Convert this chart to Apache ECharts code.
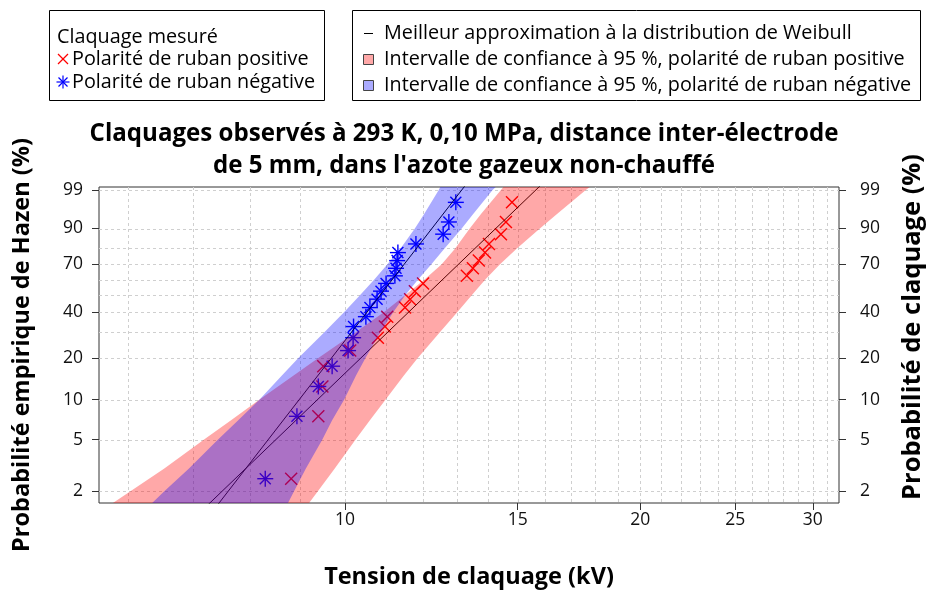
<!DOCTYPE html>
<html><head><meta charset="utf-8">
<script src="https://cdn.jsdelivr.net/npm/echarts@6/dist/echarts.min.js"></script>
<style>html,body{margin:0;padding:0;background:#fff}#c{width:930px;height:594px}</style>
</head><body><div id="c"></div>
<script>
// ---- data ----
const hazenPct = [2.5,7.5,12.5,17.5,22.5,27.5,32.5,37.5,42.5,47.5,52.5,57.5,62.5,67.5,72.5,77.5,82.5,87.5,92.5,97.5];
const positiveKV = [8.81,9.39,9.48,9.50,10.12,10.80,10.98,11.04,11.51,11.65,11.78,12.01,13.31,13.50,13.69,13.89,14.02,14.42,14.59,14.80];
const negativeKV = [8.29,8.93,9.39,9.70,10.07,10.19,10.20,10.50,10.60,10.78,10.88,11.01,11.24,11.27,11.30,11.32,11.81,12.59,12.76,12.97];
const fitScaleKV = [12.72, 11.27];   // positive, negative
const fitShape = [7.37, 9.90];       // positive, negative
const fitPct = [1.5, 99.3];
const bandPct = [1.5,2,3,5,7,10,15,20,30,40,50,60,70,80,90,95,99,99.3];
const posBandLowKV  = [5.71,6.04,6.54,7.18,7.65,8.18,8.86,9.39,10.26,10.96,11.52,12.05,12.54,12.95,13.40,13.76,14.42,14.53];
const posBandHighKV = [9.12,9.38,9.76,10.25,10.60,11.00,11.48,11.86,12.50,13.02,13.47,13.90,14.38,14.97,15.80,16.45,17.60,17.82];
const negBandLowKV  = [6.29,6.54,6.93,7.42,7.78,8.18,8.62,8.96,9.53,9.98,10.36,10.71,11.04,11.39,11.78,12.04,12.46,12.52];
const negBandHighKV = [8.70,8.87,9.12,9.48,9.70,9.98,10.26,10.49,10.87,11.20,11.52,11.87,12.24,12.63,13.15,13.51,14.14,14.28];
const xTickKV = [10,15,20,25,30];
const xGridKV = [6,7,8,9,10,11,12,13,14,15,16,17,18,19,20,21,22,23,24,25,26,27,28,29,30,31];
const yTickPct = [2,5,10,20,40,70,90,99];
const yGridPct = [2,5,10,20,30,40,50,60,70,80,90,99];
const xRangeKV = [5.61, 31.9];
const yRangePct = [1.62, 99.23];

// ---- scales (Weibull paper) ----
const lx = v => Math.log10(v);
const wb = pct => Math.log(-Math.log(1 - pct / 100));
const FONT = '"Open Sans", Lato, sans-serif';
const RED = '#ff0000', BLUE = '#0000ff';
const RED_FILL = 'rgba(255,0,0,0.34)', BLUE_FILL = 'rgba(0,0,255,0.33)';

function fitLine(i) {
  return fitPct.map(p => [lx(fitScaleKV[i] * Math.pow(-Math.log(1 - p / 100), 1 / fitShape[i])), wb(p)]);
}
function bandPoly(lo, hi) {
  const a = lo.map((v, i) => [lx(v), wb(bandPct[i])]);
  const b = hi.map((v, i) => [lx(v), wb(bandPct[i])]).reverse();
  return a.concat(b);
}
function bandSeries(name, lo, hi, fill, z) {
  const poly = bandPoly(lo, hi);
  return {
    type: 'custom', name, z, clip: true, silent: true, data: poly,
    renderItem(params, api) {
      if (params.dataIndex !== 0) return;
      return { type: 'polygon', shape: { points: poly.map(p => api.coord(p)) }, style: { fill } };
    }
  };
}
function markerSeries(name, kv, color, kind) {
  return {
    type: 'custom', name, z: 2, clip: false, silent: true,
    data: kv.map((v, i) => [lx(v), wb(hazenPct[i])]),
    renderItem(params, api) {
      const c = api.coord([api.value(0), api.value(1)]);
      const st = { stroke: color, lineWidth: 1.4 };
      const d = kind === 'x' ? 6 : 5.5, r = 8;
      const segs = [[c[0]-d, c[1]-d, c[0]+d, c[1]+d], [c[0]-d, c[1]+d, c[0]+d, c[1]-d]];
      if (kind === 'star') segs.push([c[0]-r, c[1], c[0]+r, c[1]], [c[0], c[1]-r, c[0], c[1]+r]);
      return { type: 'group', children: segs.map(s => ({ type: 'line', shape: { x1: s[0], y1: s[1], x2: s[2], y2: s[3] }, style: st })) };
    }
  };
}
function gridSeries(vertical) {
  const data = vertical ? xGridKV.map(v => [lx(v), 0]) : yGridPct.map(p => [lx(10), wb(p)]);
  return {
    type: 'custom', z: 1, silent: true, clip: true, data,
    renderItem(params, api) {
      const cs = params.coordSys;
      const c = api.coord([api.value(0), api.value(1)]);
      const shape = vertical
        ? { x1: Math.round(c[0]) + 0.5, y1: cs.y, x2: Math.round(c[0]) + 0.5, y2: cs.y + cs.height }
        : { x1: cs.x, y1: Math.round(c[1]) + 0.5, x2: cs.x + cs.width, y2: Math.round(c[1]) + 0.5 };
      return { type: 'line', shape, style: { stroke: '#cfcfcf', lineWidth: 1, lineDash: [3, 3] } };
    }
  };
}
function yAxisDef(pos, gap, margin, name) {
  return {
    type: 'value', position: pos, min: wb(yRangePct[0]), max: wb(yRangePct[1]),
    axisLine: { show: false, onZero: false }, splitLine: { show: false },
    axisTick: { show: true, customValues: yTickPct.map(wb), length: 7, lineStyle: { color: '#333' } },
    axisLabel: { customValues: yTickPct.map(wb), formatter: v => String(Math.round(100 * (1 - Math.exp(-Math.exp(v))))),
      fontSize: 17.5, color: '#111', margin, fontFamily: FONT },
    name, nameLocation: 'middle', nameRotate: 90, nameGap: gap,
    nameTextStyle: { fontSize: 23.5, fontWeight: 'bold', color: '#000', fontFamily: FONT }
  };
}
function legendMark(kind, x, y, color) {
  const d = kind === 'x' ? 5 : 4.5, r = 6.5;
  const segs = [[x-d, y-d, x+d, y+d], [x-d, y+d, x+d, y-d]];
  if (kind === 'star') segs.push([x-r, y, x+r, y], [x, y-r, x, y+r]);
  return { type: 'group', children: segs.map(s => ({ type: 'line', shape: { x1: s[0], y1: s[1], x2: s[2], y2: s[3] }, style: { stroke: color, lineWidth: 1.2 } })) };
}
const legText = (t, x, y) => ({ type: 'text', x, y, style: { text: t, fontSize: 19.8, fill: '#000', verticalAlign: 'middle', fontFamily: FONT } });

const chart = echarts.init(document.getElementById('c'), null, { renderer: 'canvas' });
chart.setOption({
  animation: false,
  textStyle: { fontFamily: FONT },
  title: {
    text: 'Claquages observés à 293 K, 0,10 MPa, distance inter-électrode\nde 5 mm, dans l\'azote gazeux non-chauffé',
    left: 459, top: 113, textAlign: 'center',
    textStyle: { fontSize: 24.1, fontWeight: 'bold', lineHeight: 32, color: '#000', fontFamily: FONT }
  },
  grid: { left: 99, right: 91, top: 187, bottom: 91, show: true, borderColor: '#333', borderWidth: 1, outerBoundsMode: 'none' },
  xAxis: {
    type: 'value', min: lx(xRangeKV[0]), max: lx(xRangeKV[1]),
    axisLine: { show: false, onZero: false }, splitLine: { show: false },
    axisTick: { show: true, customValues: xTickKV.map(lx), length: 7, lineStyle: { color: '#333' } },
    axisLabel: { customValues: xTickKV.map(lx), formatter: v => String(Math.round(Math.pow(10, v))), fontSize: 17.5, color: '#111', margin: 8, fontFamily: FONT },
    name: 'Tension de claquage (kV)', nameLocation: 'middle', nameGap: 62,
    nameTextStyle: { fontSize: 23.5, fontWeight: 'bold', color: '#000', fontFamily: FONT }
  },
  yAxis: [
    yAxisDef('left', 65, 16, 'Probabilité empirique de Hazen (%)'),
    yAxisDef('right', 61, 21, '')
  ],
  series: [
    gridSeries(true), gridSeries(false),
    markerSeries('Polarité de ruban positive', positiveKV, RED, 'x'),
    markerSeries('Polarité de ruban négative', negativeKV, BLUE, 'star'),
    { type: 'line', name: 'fit+', z: 3, data: fitLine(0), symbol: 'none', silent: true, lineStyle: { color: '#000', width: 1 } },
    { type: 'line', name: 'fit-', z: 3, data: fitLine(1), symbol: 'none', silent: true, lineStyle: { color: '#000', width: 1 } },
    bandSeries('IC+', posBandLowKV, posBandHighKV, RED_FILL, 4),
    bandSeries('IC-', negBandLowKV, negBandHighKV, BLUE_FILL, 5)
  ],
  graphic: [
    { type: 'text', x: 913, y: 327, rotation: Math.PI / 2,
      style: { text: 'Probabilité de claquage (%)', fontSize: 25.5, fontWeight: 'bold', fill: '#000', align: 'center', verticalAlign: 'middle', fontFamily: FONT } },
    { type: 'rect', shape: { x: 49.5, y: 10.5, width: 275, height: 90 }, style: { fill: '#fff', stroke: '#000', lineWidth: 1 } },
    legText('Claquage mesuré', 57, 37),
    legendMark('x', 63, 59, RED), legText('Polarité de ruban positive', 72, 59),
    legendMark('star', 63, 82, BLUE), legText('Polarité de ruban négative', 72, 82),
    { type: 'rect', shape: { x: 352.5, y: 10.5, width: 568, height: 90 }, style: { fill: '#fff', stroke: '#000', lineWidth: 1 } },
    { type: 'line', shape: { x1: 364, y1: 33.5, x2: 373, y2: 33.5 }, style: { stroke: '#000', lineWidth: 1 } },
    legText('Meilleur approximation à la distribution de Weibull', 384, 33),
    { type: 'rect', shape: { x: 363.5, y: 54.5, width: 10, height: 10 }, style: { fill: RED_FILL, stroke: '#444', lineWidth: 1 } },
    legText('Intervalle de confiance à 95 %, polarité de ruban positive', 384, 59),
    { type: 'rect', shape: { x: 363.5, y: 80.5, width: 10, height: 10 }, style: { fill: BLUE_FILL, stroke: '#444', lineWidth: 1 } },
    legText('Intervalle de confiance à 95 %, polarité de ruban négative', 384, 85)
  ]
});
</script></body></html>
